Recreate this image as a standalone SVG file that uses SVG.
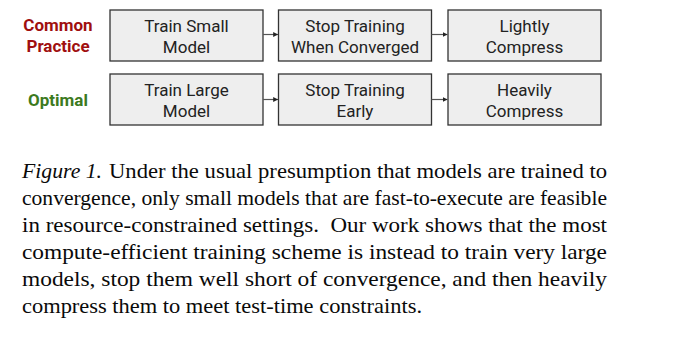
<svg xmlns="http://www.w3.org/2000/svg" width="673" height="341" viewBox="0 0 673 341">
<style>
.box{fill:#eeeeee;stroke:#333333;stroke-width:1.3}
.bt{font-family:Roboto,"Liberation Sans",sans-serif;font-size:17px;fill:#222222;text-anchor:middle}
.lab{font-family:Roboto,"Liberation Sans",sans-serif;font-size:17px;font-weight:bold;text-anchor:middle}
.cap{font-family:"Liberation Serif","Times New Roman",serif;font-size:21.5px;fill:#0a0a0a}
.conn{stroke:#555555;stroke-width:1.2;fill:none}
</style>
<defs>
<marker id="ah" viewBox="0 0 6 6" refX="6" refY="3" markerWidth="4" markerHeight="4" markerUnits="strokeWidth" orient="auto">
<path d="M0,0 L6,3 L0,6 z" fill="#222222"/>
</marker>
</defs>
<rect width="673" height="341" fill="#ffffff"/>
<g id="label-common">
<text class="lab" x="58" y="31" fill="#a00f0f">Common</text>
<text class="lab" x="58" y="52" fill="#a00f0f">Practice</text>
</g>
<g id="label-optimal">
<text class="lab" x="58" y="106" fill="#3c7a1e">Optimal</text>
</g>
<g id="train-small">
<rect class="box" x="110" y="10" width="153" height="51"/>
<text class="bt" x="186.5" y="32">Train Small</text>
<text class="bt" x="186.5" y="53">Model</text>
</g>
<g id="stop-converged">
<rect class="box" x="278.5" y="10" width="153" height="51"/>
<text class="bt" x="355" y="32">Stop Training</text>
<text class="bt" x="355" y="53">When Converged</text>
</g>
<g id="lightly-compress">
<rect class="box" x="448" y="10" width="153" height="51"/>
<text class="bt" x="524.5" y="32">Lightly</text>
<text class="bt" x="524.5" y="53">Compress</text>
</g>
<g id="train-large">
<rect class="box" x="110" y="74" width="153" height="51"/>
<text class="bt" x="186.5" y="96">Train Large</text>
<text class="bt" x="186.5" y="117">Model</text>
</g>
<g id="stop-early">
<rect class="box" x="278.5" y="74" width="153" height="51"/>
<text class="bt" x="355" y="96">Stop Training</text>
<text class="bt" x="355" y="117">Early</text>
</g>
<g id="heavily-compress">
<rect class="box" x="448" y="74" width="153" height="51"/>
<text class="bt" x="524.5" y="96">Heavily</text>
<text class="bt" x="524.5" y="117">Compress</text>
</g>
<g id="connectors">
<line class="conn" x1="263" y1="34.5" x2="278" y2="34.5" marker-end="url(#ah)"/>
<line class="conn" x1="431.5" y1="34.5" x2="447.5" y2="34.5" marker-end="url(#ah)"/>
<line class="conn" x1="263" y1="99.5" x2="278" y2="99.5" marker-end="url(#ah)"/>
<line class="conn" x1="431.5" y1="99.5" x2="447.5" y2="99.5" marker-end="url(#ah)"/>
</g>
<g id="caption">
<text class="cap" x="22" y="178" font-style="italic" textLength="80" lengthAdjust="spacingAndGlyphs">Figure 1.</text>
<text class="cap" x="109" y="178" textLength="498" lengthAdjust="spacingAndGlyphs">Under the usual presumption that models are trained to</text>
<text class="cap" x="22" y="205" textLength="585" lengthAdjust="spacingAndGlyphs">convergence, only small models that are fast-to-execute are feasible</text>
<text class="cap" x="22" y="232" textLength="585" lengthAdjust="spacingAndGlyphs" xml:space="preserve">in resource-constrained settings.  Our work shows that the most</text>
<text class="cap" x="22" y="259" textLength="585" lengthAdjust="spacingAndGlyphs">compute-efficient training scheme is instead to train very large</text>
<text class="cap" x="22" y="286" textLength="585" lengthAdjust="spacingAndGlyphs">models, stop them well short of convergence, and then heavily</text>
<text class="cap" x="22" y="313" textLength="400" lengthAdjust="spacingAndGlyphs">compress them to meet test-time constraints.</text>
</g>
</svg>
